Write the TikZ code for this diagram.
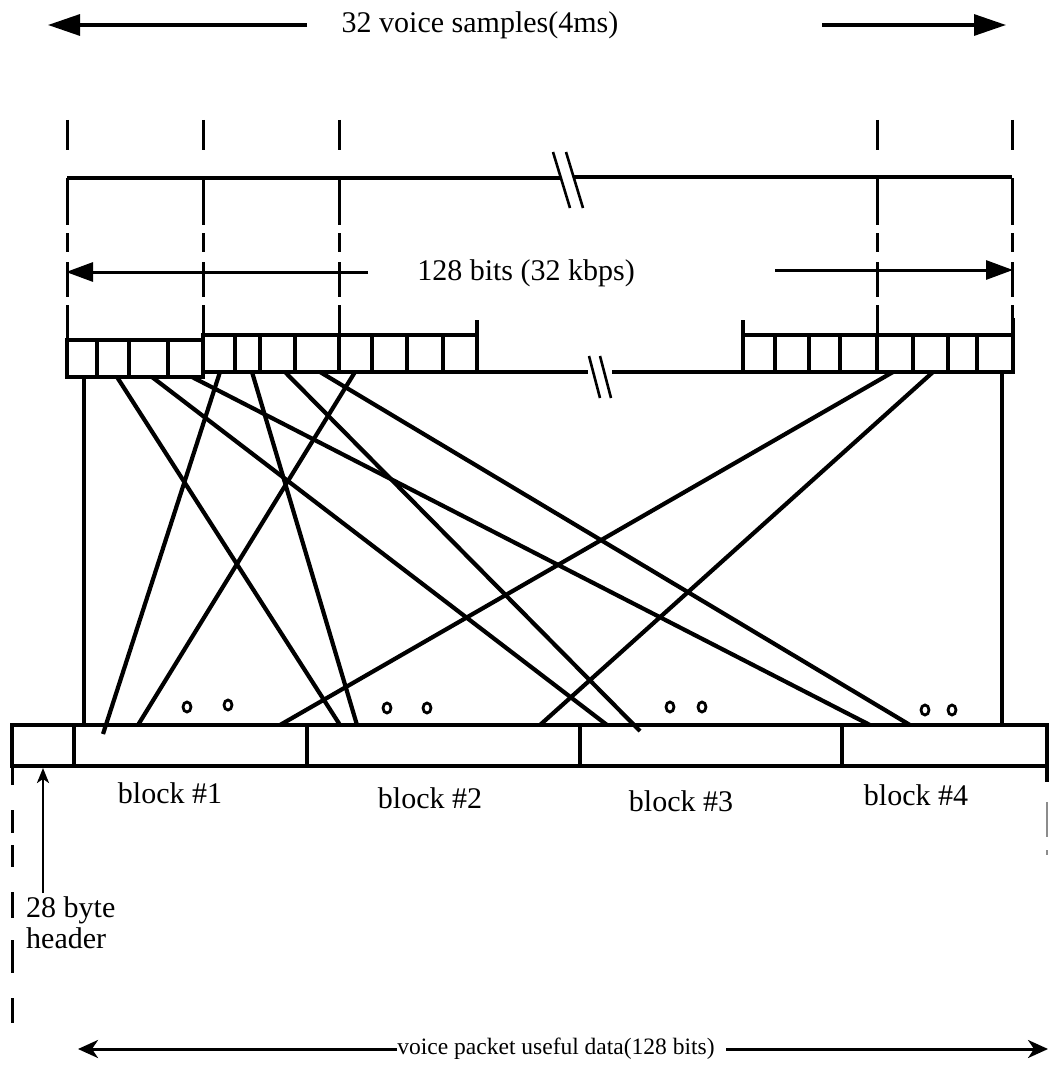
\documentclass[tikz,border=0pt]{standalone}
\usepackage{fontspec}
\setmainfont{Liberation Serif}
\usetikzlibrary{arrows.meta}
\begin{document}
\begin{tikzpicture}[x=1pt,y=-1pt,line cap=butt,
  txt/.style={font=\fontsize{30}{31}\selectfont,inner sep=0pt},
  smalltxt/.style={font=\fontsize{23.5}{25}\selectfont,inner sep=0pt},
  frame/.style={line width=3.2pt},
  wire/.style={line width=4.2pt},
  dsh/.style={line width=3pt},
  toparrow/.style={line width=3.2pt,-{Triangle[length=32pt,width=21pt]}},
  midarrow/.style={line width=3pt,-{Triangle[length=27pt,width=19pt]}},
  botarrow/.style={line width=3pt,-{Stealth[length=20pt,width=18pt,inset=6pt]}},
  hdrarrow/.style={line width=2.4pt,-{Stealth[length=15pt,width=12pt,inset=4pt]}},
  dot/.style={line width=2.8pt}]
\useasboundingbox (0,0) rectangle (1050,1070);

% ---- top arrow
\node[txt] (t1) at (480,25) {32 voice samples(4ms)};
\coordinate (t1l0) at (307,25); \coordinate (t1l) at (48,25);
\coordinate (t1r0) at (822,25); \coordinate (t1r) at (1006,25);
\draw[toparrow] (t1l0) -- (t1l);
\draw[toparrow] (t1r0) -- (t1r);

% ---- dashed verticals
\foreach \x/\b in {67/340,203/335,339/335,877/335,1012/335}{
  \draw[dsh] (\x,120)--(\x,150);
  \draw[dsh] (\x,178)--(\x,225);
  \draw[dsh] (\x,233)--(\x,252);
  \draw[dsh] (\x,262)--(\x,297);
  \draw[dsh] (\x,305)--(\x,\b);
}
% horizontal scale line with break
\draw[frame] (67,178) -- (560,178);
\draw[frame] (574,177) -- (1012,177);
\draw[line width=2.6pt] (553,152) -- (570,208);
\draw[line width=2.6pt] (566,152) -- (583,208);

% ---- 128 bits arrow
\node[txt] (t2) at (526,273) {128 bits (32 kbps)};
\coordinate (t2l0) at (368,272); \coordinate (t2l) at (66,272);
\coordinate (t2r0) at (775,270); \coordinate (t2r) at (1013,270);
\draw[midarrow] (t2l0) -- (t2l);
\draw[midarrow] (t2r0) -- (t2r);

% ---- bit cells
\draw[frame] (67,340) rectangle (203,377);
\foreach \x in {97,129,168} \draw[frame] (\x,340) -- (\x,377);
\draw[frame] (203,335) rectangle (477,372);
\foreach \x in {235,260,295,339,372,407,443} \draw[frame] (\x,335) -- (\x,372);
\draw[frame] (477,320) -- (477,335);
\draw[frame] (477,372) -- (588,372);
\draw[frame] (612,372) -- (743,372);
\draw[line width=2.6pt] (589,356) -- (600,398);
\draw[line width=2.6pt] (600,356) -- (611,398);
\draw[frame] (743,335) rectangle (1013,372);
\foreach \x in {775,809,840,877,913,948,977} \draw[frame] (\x,335) -- (\x,372);
\draw[frame] (743,320) -- (743,335);
\draw[line width=4pt] (1013,318) -- (1013,336);

% ---- bottom bar
\draw[frame] (12,725) rectangle (1047,766);
\foreach \x in {74,307,580,842} \draw[frame] (\x,725) -- (\x,766);

% ---- wires
\foreach \n/\x/\y in {a/84/377,b/117/377,c/152/377,d/192/377,e/220/372,f/252/372,g/285/372,h/320/372,i/355/372,j/893/372,k/933/372,l/1002/372}
  \coordinate (u\n) at (\x,\y);
\foreach \n/\x/\y in {a/84/725,b/340/725,c/607/725,d/870/725,e/103/734,f/357/725,g/640/731,h/910/725,i/138/725,j/280/725,k/540/725,l/1002/725}
  \coordinate (w\n) at (\x,\y);
\draw[frame] (ua) -- (wa);
\draw[frame] (ul) -- (wl);
\foreach \n in {b,c,d,e,f,g,h,i,j,k} \draw[wire] (u\n) -- (w\n);

% ---- dots
\foreach \x/\y in {187/707,228/705,387/708,427/708,670/707,702/707,925/710,952/710}
  \draw[dot] (\x,\y) ellipse [x radius=4pt,y radius=5pt];

% ---- block labels
\node[txt,anchor=base] (b1) at (170,803) {block \#1};
\node[txt,anchor=base] (b2) at (430,808) {block \#2};
\node[txt,anchor=base] (b3) at (681,811) {block \#3};
\node[txt,anchor=base] (b4) at (916,805) {block \#4};

% ---- left / right dashed continuations
\foreach \a/\b in {766/785,810/833,845/867,892/918,940/973,998/1023}
  \draw[dsh] (12,\a) -- (12,\b);
\draw[frame] (1047,766) -- (1047,782);
\draw[line width=1.2pt,black!45] (1047,802) -- (1047,837);
\draw[line width=1.2pt,black!45] (1047,850) -- (1047,855);

% ---- header label and arrow
\node[txt,anchor=north west,align=left] (hdr) at (26,896) {28 byte\\header};
\coordinate (hb) at (43,893); \coordinate (ht) at (43,768);
\draw[hdrarrow] (hb) -- (ht);

% ---- bottom arrow
\node[smalltxt] (t3) at (556,1049) {voice packet useful data(128 bits)};
\coordinate (t3l) at (78,1049); \coordinate (t3r0) at (726,1049); \coordinate (t3r) at (1048,1049);
\draw[botarrow] (t3.west) -- (t3l);
\draw[botarrow] (t3r0) -- (t3r);
\end{tikzpicture}
\end{document}
